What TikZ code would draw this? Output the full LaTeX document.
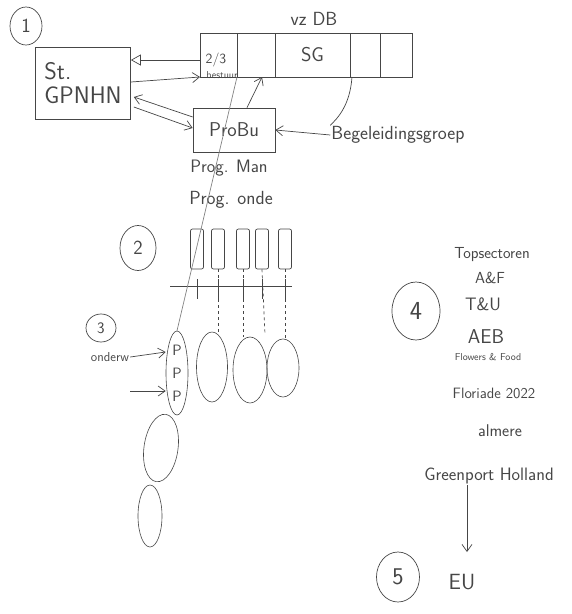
\documentclass[tikz,border=0pt]{standalone}
\usepackage{tikz}
\usepackage{xcolor}
\usetikzlibrary{arrows.meta, shapes.geometric, positioning, calc}
\definecolor{pen}  {RGB}{ 70, 70, 70}
\definecolor{faint}{RGB}{130,130,130}
\newcommand{\hw}[1]{\fontsize{#1}{#1}\selectfont\sffamily}
\tikzset{
  % pencil strokes
  Line/.style={draw=pen,line width=0.7pt},
  % plain box
  Box/.style={rectangle,draw=pen,line width=0.7pt,text=pen,
              minimum width=#1,inner sep=2pt},
  Box/.default=80pt,
  % cell of the top row
  Cell/.style={rectangle,draw=pen,line width=0.7pt,text=pen,
               minimum width=#1,minimum height=44pt,inner sep=0pt,
               outer sep=0pt,font=\hw{20}},
  Cell/.default=36pt,
  % narrow upright bar
  BarBox/.style={rectangle,rounded corners=2pt,draw=pen,line width=0.7pt,
                 minimum width=13pt,minimum height=40pt,inner sep=0pt},
  % oval
  Oval/.style={ellipse,draw=pen,line width=0.6pt,inner sep=0pt},
  % circled step number
  Num/.style={ellipse,draw=pen,line width=0.7pt,text=pen,font=\hw{20},
              inner sep=0pt},
  % handwritten label
  Txt/.style={text=pen,inner sep=1pt,font=\hw{#1}},
  Txt/.default=14,
  % arrows
  Arr/.style ={-{Straight Barb[length=7pt,width=10pt]},line width=0.7pt,
               draw=pen},
  OArr/.style={-{Triangle[open,length=10pt,width=11pt]},line width=0.7pt,
               draw=pen},
}
\begin{document}
\begin{tikzpicture}[x=1pt,y=-1pt]
  \useasboundingbox (0,0) rectangle (572,614);

  % (1) board and bureau
  \node[Num,minimum width=32pt,minimum height=38pt] (n1) at (26,26) {1};
  \node[Box=95pt,minimum height=72pt,align=left,font=\hw{24}]
        (gpnhn) at (83,83) {St.\\GPNHN};

  \node[Cell=37pt] (b1) at (218.5,55) {};
  \node[Cell=38pt,right=0pt of b1] (b2) {};
  \node[Cell=75pt,right=0pt of b2] (b3) {SG};
  \node[Cell=30pt,right=0pt of b3] (b4) {};
  \node[Cell=32pt,right=0pt of b4] (b5) {};
  \node[Txt=14] (frac) at (216,60) {2/3};
  \node[Txt=10] (bestuur) at (222,75) {bestuur};
  \node[Txt=19] (vzdb) at (314,19) {vz DB};

  \node[Box=82pt,minimum height=44pt,font=\hw{20}] (probu) at (234,130) {ProBu};
  \node[Txt=19] (bg) at (398,135) {Begeleidingsgroep};
  \node[Txt=18] (pman) at (229,168) {Prog. Man};
  \node[Txt=19] (ponde) at (231,200) {Prog. onde};

  \draw[OArr] (b1.west |- 0,60) -- (gpnhn.east |- 0,60);
  \draw[Arr] (gpnhn.east |- 0,82) -- (b1.south west);
  \draw[Arr] (probu.west |- 0,117) -- ($(gpnhn.east)+(3,14)$);
  \draw[Arr] ($(gpnhn.east)+(3,24)$) -- (probu.west |- 0,128);
  \draw[Arr] ($(probu.north)+(13,0)$) -- ($(b2.south west)+(25,0)$);
  \draw[Arr] (bg.west) -- (probu.east);
  \draw[Line] ($(b4.south west)+(2,0)$)
        .. controls (350,105) and (338,118) .. (bg.north west);

  % (2) programme lines
  \node[Num,minimum width=36pt,minimum height=45pt] (n2) at (138,248) {2};
  \foreach \i/\x in {1/197,2/218,3/243,4/262,5/285}
    \node[BarBox] (bar\i) at (\x,249) {};
  \coordinate (tL) at (170,286);
  \coordinate (tR) at (292,286);
  \draw[Line] (tL) -- (tR);
  \foreach \i in {1,...,5}
    \draw[Line] ($(bar\i.south)+(0,10)$) -- ($(bar\i.south)+(0,30)$);

  % (3) projects
  \node[Num,minimum width=30pt,minimum height=28pt,font=\hw{16}] (n3) at (101,328) {3};
  \node[Txt=13] (onderw) at (110,357) {onderw};
  \node[Oval,minimum width=22pt,minimum height=84pt,text=pen,font=\hw{15},
        align=center] (pcol) at (177,373) {P\\[8pt]P\\[8pt]P};
  \node[Oval,minimum width=31pt,minimum height=70pt] (ov1) at (212,367) {};
  \node[Oval,minimum width=34pt,minimum height=66pt] (ov2) at (250,370) {};
  \node[Oval,minimum width=32pt,minimum height=58pt] (ov3) at (283,368) {};
  \node[Oval,minimum width=34pt,minimum height=68pt,rotate=-8] (ov4) at (161,448) {};
  \node[Oval,minimum width=24pt,minimum height=62pt] (ov5) at (150,516) {};
  \coordinate (pin) at (130,391);
  \coordinate (end4) at (265,334);

  \draw[Line,draw=faint] (b1.south east) -- (pcol.north);
  \draw[Line,dashed] (bar2.south) -- (bar2.south |- ov1.north);
  \draw[Line,dashed] (bar3.south) -- (bar3.south |- ov2.north);
  \draw[Line,dashed] (bar4.south) -- (end4);
  \draw[Line,dashed] (bar5.south) -- (bar5.south |- ov3.north);
  \draw[Arr] (onderw.east) -- (pcol.west |- 0,352);
  \draw[Arr] (pin) -- (pcol.west |- pin);

  % (4) network
  \node[Num,minimum width=48pt,minimum height=58pt,font=\hw{26}] (n4) at (416,311) {4};
  \node[Txt=16] (tops) at (492,255) {Topsectoren};
  \node[Txt=16] (af)   at (490,278) {A\&F};
  \node[Txt=18] (tu)   at (483,304) {T\&U};
  \node[Txt=20] (aeb)  at (486,337) {AEB};
  \node[Txt=10] (ff)   at (488,357) {Flowers \& Food};
  \node[Txt=15] (flor) at (494,393) {Floriade 2022};
  \node[Txt=17] (alm)  at (500,431) {almere};
  \node[Txt=18] (gph)  at (489,476) {Greenport Holland};

  % (5) EU
  \node[Num,minimum width=43pt,minimum height=50pt,font=\hw{24}] (n5) at (398,577) {5};
  \node[Txt=22] (eu) at (462,582) {EU};
  \coordinate (down) at (467,552);
  \draw[Arr] (gph.south -| down) -- (down);
\end{tikzpicture}
\end{document}
